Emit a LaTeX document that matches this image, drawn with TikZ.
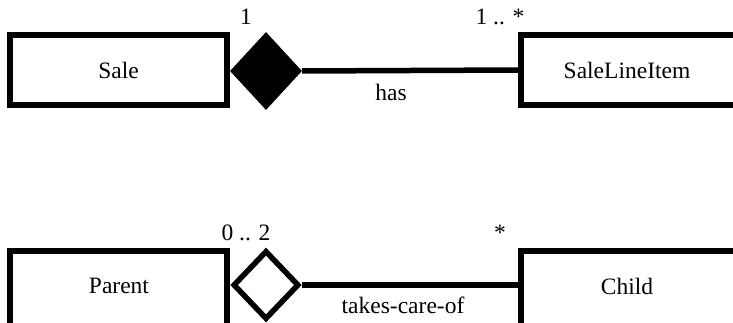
\documentclass[tikz,border=0pt]{standalone}
\usepackage{fontspec}
\setmainfont{Liberation Serif}
\usetikzlibrary{shapes.geometric}
\begin{document}
\begin{tikzpicture}[x=1pt,y=-1pt,
  every node/.style={font=\fontsize{23.5}{28}\selectfont},
  classbox/.style={draw=black,line width=5.5pt,minimum width=217pt,minimum height=70pt,inner sep=0pt},
  solidagg/.style={diamond,fill=black,minimum width=72pt,minimum height=78pt,inner sep=0pt},
  openagg/.style={diamond,draw=black,line width=5.5pt,fill=white,minimum width=66pt,minimum height=69pt,inner sep=0pt},
  assoc/.style={line width=5.5pt},
  lbl/.style={inner sep=0pt,anchor=base},
  txt/.style={inner sep=0pt}]
\useasboundingbox (0,0) rectangle (733,323);
% top association
\node[classbox] (sale) at (118.5,70) {Sale};
\node[classbox,minimum width=240pt] (sli) at (641,70) {};
\node[txt] (slit) at (627,70) {SaleLineItem};
\node[solidagg] (d1) at (266,71) {};
\draw[assoc] (d1.east) -- (sli.west);
\node[lbl] (m1) at (246,25) {1};
\node[lbl] (m2) at (500,25) {1 .. *};
\node[txt] (has) at (391,92) {has};
% bottom association
\node[classbox,minimum height=90pt] (parent) at (118.5,296) {};
\node[txt] (parentt) at (119,286) {Parent};
\node[classbox,minimum width=240pt,minimum height=90pt] (child) at (641,296) {};
\node[txt] (childt) at (627,286) {Child};
\node[openagg] (d2) at (266,285) {};
\draw[assoc] (d2.east) -- (child.west |- d2.east);
\node[lbl] (m3) at (246,240) {0 .. 2};
\node[lbl] (m4) at (500,240) {*};
\node[txt] (tco) at (403,305) {takes-care-of};
\end{tikzpicture}
\end{document}
